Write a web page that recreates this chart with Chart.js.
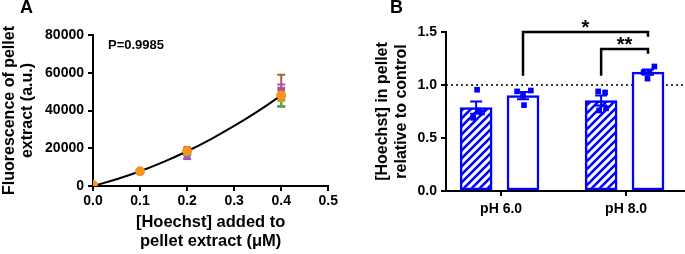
<!DOCTYPE html>
<html>
<head>
<meta charset="utf-8">
<script src="https://cdn.jsdelivr.net/npm/chart.js@4.4.1/dist/chart.umd.min.js"></script>
<style>
html, body { margin: 0; padding: 0; background: #fff; overflow: hidden; }
#wrap { position: relative; width: 685px; height: 254px; overflow: hidden; }
#boxA { position: absolute; left: 0; top: 0; width: 340px; height: 254px; }
#boxB { position: absolute; left: 340px; top: 0; width: 360px; height: 254px; }
.panel { position: absolute; top: -3px; font: bold 18px "Liberation Sans", Arial, sans-serif; }
</style>
</head>
<body>
<div id="wrap">
  <div id="boxA"><canvas id="chartA" width="340" height="254"></canvas></div>
  <div id="boxB"><canvas id="chartB" width="360" height="254"></canvas></div>
  <div class="panel" style="left:20px">A</div>
  <div class="panel" style="left:390px">B</div>
</div>
<script>
// ---- Panel A data ----
const doseX = [0, 0.1, 0.2, 0.4];
const brownY = [600, 7700, 19500, 50500];
const brownErr = [0, 0, 800, 8500];
const purpleY = [600, 7500, 15500, 50000];
const purpleErr = [0, 0, 1200, 3800];
const greenY = [600, 7700, 17000, 47200];
const greenErr = [0, 0, 600, 4800];
const orangeY = [600, 7800, 18500, 48000];
const orangeErr = [0, 0, 500, 3000];
const fitX = [0, 0.05, 0.1, 0.15, 0.2, 0.25, 0.3, 0.35, 0.4];
const fitY = [0, 3550, 7800, 12750, 18400, 24750, 31800, 39550, 48000];
const xTicksA = [0, 0.1, 0.2, 0.3, 0.4, 0.5];
const yTicksA = [0, 20000, 40000, 60000, 80000];
const fitLabel = 'P=0.9985';

// ---- Panel B data ----
const categories = ['pH 6.0', 'pH 8.0'];
const hatchedMean = [0.787, 0.853];
const hatchedSem = [0.058, 0.047];
const whiteMean = [0.900, 1.122];
const whiteSem = [0.035, 0.025];
const hatchedReps = [[0.955, 0.76, 0.69, 0.74], [0.94, 0.93, 0.76, 0.78]];
const whiteReps = [[0.94, 0.948, 0.81, 0.90], [1.175, 1.06, 1.12, 1.118]];
const yTicksB = [0, 0.5, 1.0, 1.5];
const refLevel = 1.0;
const sigLabels = ['*', '**'];
const sigLevels = [1.5, 1.34];

// ---- styles ----
const FONT = '"Liberation Sans", Arial, sans-serif';
const BLUE = '#0000ff';
const series = [
  { y: orangeY, err: orangeErr, color: '#f7931e', shape: 'circle', r: 4.5 },
  { y: greenY, err: greenErr, color: '#3cb44b', shape: 'rect', r: 4 },
  { y: purpleY, err: purpleErr, color: '#c13be0', shape: 'rect', r: 4 },
  { y: brownY, err: brownErr, color: '#a8642e', shape: 'rect', r: 4 }
];
const hatchShift = -0.2, whiteShift = 0.175;   // bar offsets inside each group (x units)
const jitterH = [[1, 2, -3, 6], [-3, 4, -2, 5]];  // px
const jitterW = [[-6, 8, 1, 0], [6.5, -0.5, -4.5, 1.5]];
const pxPerUnitB = 127;

Chart.defaults.font.family = FONT;
Chart.defaults.font.weight = 'bold';
Chart.defaults.font.size = 14;
Chart.defaults.color = '#000';

// ---- Panel A ----
const decorA = {
  id: 'decorA',
  beforeDatasetsDraw(chart) {
    const { ctx, scales: { x, y } } = chart;
    ctx.save();
    ctx.lineWidth = 2;
    series.slice().reverse().forEach(s => {
      ctx.strokeStyle = s.color;
      doseX.forEach((d, i) => {
        if (!s.err[i]) return;
        const px = x.getPixelForValue(d);
        const top = y.getPixelForValue(s.y[i] + s.err[i]);
        const bot = y.getPixelForValue(s.y[i] - s.err[i]);
        ctx.beginPath();
        ctx.moveTo(px, top); ctx.lineTo(px, bot);
        ctx.moveTo(px - 4, top); ctx.lineTo(px + 4, top);
        ctx.moveTo(px - 4, bot); ctx.lineTo(px + 4, bot);
        ctx.stroke();
      });
    });
    ctx.restore();
  },
  afterDraw(chart) {
    const { ctx, chartArea } = chart;
    ctx.save();
    ctx.font = 'bold 13px ' + FONT;
    ctx.fillStyle = '#000';
    ctx.textBaseline = 'middle';
    ctx.fillText(fitLabel, chartArea.left + 15, chartArea.top + 10);
    ctx.restore();
  }
};

const datasetsA = series.map((s, k) => ({
  type: 'scatter',
  data: doseX.map((d, i) => ({ x: d, y: s.y[i] })),
  backgroundColor: s.color,
  borderColor: s.color,
  pointStyle: s.shape,
  pointRadius: s.r,
  order: k
}));
datasetsA.push({
  type: 'scatter',
  data: fitX.map((d, i) => ({ x: d, y: fitY[i] })),
  showLine: true,
  borderColor: '#000',
  borderWidth: 2,
  pointRadius: 0,
  tension: 0.4,
  order: 10
});

new Chart(document.getElementById('chartA'), {
  type: 'scatter',
  data: { datasets: datasetsA },
  options: {
    responsive: false,
    animation: false,
    layout: { padding: { left: 0, top: 35, right: 11, bottom: 0 } },
    plugins: { legend: { display: false }, tooltip: { enabled: false } },
    scales: {
      x: {
        type: 'linear', min: 0, max: 0.5,
        afterBuildTicks: s => { s.ticks = xTicksA.map(v => ({ value: v })); },
        afterFit: s => { s.height = 68; },
        ticks: { callback: v => v.toFixed(1), padding: 2, maxRotation: 0, autoSkip: false },
        grid: { drawOnChartArea: false, tickLength: 5, color: '#000', lineWidth: 2 },
        border: { color: '#000', width: 2 },
        title: { display: true, text: ['[Hoechst] added to', 'pellet extract (\u03bcM)'],
                 font: { size: 16.5, weight: 'bold', lineHeight: 1.15 }, padding: { top: 0, bottom: 3 } }
      },
      y: {
        min: 0, max: 80000,
        afterBuildTicks: s => { s.ticks = yTicksA.map(v => ({ value: v })); },
        afterFit: s => { s.width = 93; },
        ticks: { callback: v => String(v), padding: 4 },
        grid: { drawOnChartArea: false, tickLength: 5, color: '#000', lineWidth: 2 },
        border: { color: '#000', width: 2 },
        title: { display: true, text: ['Fluorescence of pellet', 'extract (a.u.)'],
                 font: { size: 16, weight: 'bold', lineHeight: 1.1 }, padding: { top: 1, bottom: 0 } }
      }
    }
  },
  plugins: [decorA]
});

// ---- Panel B ----
function makeHatch() {
  const c = document.createElement('canvas');
  c.width = 8; c.height = 8;
  const g = c.getContext('2d');
  g.fillStyle = '#fff';
  g.fillRect(0, 0, 8, 8);
  g.strokeStyle = BLUE;
  g.lineWidth = 2.6;
  g.beginPath();
  g.moveTo(-2, 10); g.lineTo(10, -2);
  g.moveTo(-2, 2); g.lineTo(2, -2);
  g.moveTo(6, 10); g.lineTo(10, 6);
  g.stroke();
  return g.createPattern(c, 'repeat');
}

const groupPos = categories.map((c, i) => i);

const decorB = {
  id: 'decorB',
  beforeDatasetsDraw(chart) {
    const { ctx, chartArea, scales: { y } } = chart;
    const py = y.getPixelForValue(refLevel);
    ctx.save();
    ctx.strokeStyle = '#000';
    ctx.lineWidth = 1.5;
    ctx.setLineDash([2, 3]);
    ctx.beginPath();
    ctx.moveTo(chartArea.left, py); ctx.lineTo(chartArea.right, py);
    ctx.stroke();
    ctx.restore();
  },
  afterDatasetDraw(chart, args) {
    const ds = chart.data.datasets[args.index];
    if (!ds.semValues) return;
    const { ctx, scales: { x, y } } = chart;
    ctx.save();
    ctx.strokeStyle = BLUE;
    ctx.lineWidth = 2;
    ds.data.forEach((p, i) => {
      const px = x.getPixelForValue(p.x);
      const top = y.getPixelForValue(p.y + ds.semValues[i]);
      const bot = y.getPixelForValue(p.y - ds.semValues[i]);
      ctx.beginPath();
      ctx.moveTo(px, top); ctx.lineTo(px, bot);
      ctx.moveTo(px - 6, top); ctx.lineTo(px + 6, top);
      ctx.moveTo(px - 6, bot); ctx.lineTo(px + 6, bot);
      ctx.stroke();
    });
    ctx.restore();
  },
  afterDraw(chart) {
    const { ctx, scales: { x, y } } = chart;
    const legLow = 1.087, legDrop = 0.045;
    const pairs = [
      [groupPos[0] + whiteShift, groupPos[1] + whiteShift],
      [groupPos[1] + hatchShift, groupPos[1] + whiteShift]
    ];
    ctx.save();
    ctx.strokeStyle = '#000';
    ctx.fillStyle = '#000';
    ctx.lineWidth = 2.5;
    ctx.font = 'bold 20px ' + FONT;
    ctx.textAlign = 'center';
    ctx.textBaseline = 'alphabetic';
    pairs.forEach((pr, k) => {
      const x1 = x.getPixelForValue(pr[0]);
      const x2 = x.getPixelForValue(pr[1]);
      const yt = y.getPixelForValue(sigLevels[k]);
      ctx.beginPath();
      ctx.moveTo(x1, y.getPixelForValue(legLow));
      ctx.lineTo(x1, yt);
      ctx.lineTo(x2, yt);
      ctx.lineTo(x2, y.getPixelForValue(sigLevels[k] - legDrop));
      ctx.stroke();
      ctx.fillText(sigLabels[k], (x1 + x2) / 2, yt + 2);
    });
    ctx.restore();
  }
};

const hatch = makeHatch();
const repPoints = [];
groupPos.forEach((g, i) => {
  hatchedReps[i].forEach((v, j) => repPoints.push({ x: g + hatchShift + jitterH[i][j] / pxPerUnitB, y: v }));
  whiteReps[i].forEach((v, j) => repPoints.push({ x: g + whiteShift + jitterW[i][j] / pxPerUnitB, y: v }));
});

new Chart(document.getElementById('chartB'), {
  type: 'bar',
  data: {
    datasets: [
      {
        data: groupPos.map((g, i) => ({ x: g + hatchShift, y: hatchedMean[i] })),
        semValues: hatchedSem,
        backgroundColor: hatch,
        borderColor: BLUE,
        borderWidth: 2.5,
        borderSkipped: false,
        barThickness: 32,
        grouped: false,
        order: 3
      },
      {
        data: groupPos.map((g, i) => ({ x: g + whiteShift, y: whiteMean[i] })),
        semValues: whiteSem,
        backgroundColor: '#fff',
        borderColor: BLUE,
        borderWidth: 2.5,
        borderSkipped: false,
        barThickness: 32,
        grouped: false,
        order: 3
      },
      {
        type: 'scatter',
        data: repPoints,
        backgroundColor: BLUE,
        borderColor: BLUE,
        borderWidth: 0,
        pointStyle: 'rect',
        pointRadius: 4,
        order: 1
      }
    ]
  },
  options: {
    responsive: false,
    animation: false,
    layout: { padding: { left: 0, top: 32, right: 0, bottom: 0 } },
    plugins: { legend: { display: false }, tooltip: { enabled: false } },
    scales: {
      x: {
        type: 'linear', min: -0.441, max: 1.559, offset: false,
        afterBuildTicks: s => { s.ticks = groupPos.map(v => ({ value: v })); },
        afterFit: s => { s.height = 63; },
        ticks: { callback: (v, i) => categories[i], padding: 5, maxRotation: 0, autoSkip: false },
        grid: { offset: false, drawOnChartArea: false, tickLength: 5, color: '#000', lineWidth: 2 },
        border: { color: '#000', width: 2 }
      },
      y: {
        min: 0, max: 1.5,
        afterBuildTicks: s => { s.ticks = yTicksB.map(v => ({ value: v })); },
        afterFit: s => { s.width = 106; },
        ticks: { callback: v => v.toFixed(1), padding: 4 },
        grid: { drawOnChartArea: false, tickLength: 5, color: '#000', lineWidth: 2 },
        border: { color: '#000', width: 2 },
        title: { display: true, text: ['[Hoechst] in pellet', 'relative to control'],
                 font: { size: 16, weight: 'bold', lineHeight: 1.2 }, padding: { top: 33, bottom: 0 } }
      }
    }
  },
  plugins: [decorB]
});
</script>
</body>
</html>
